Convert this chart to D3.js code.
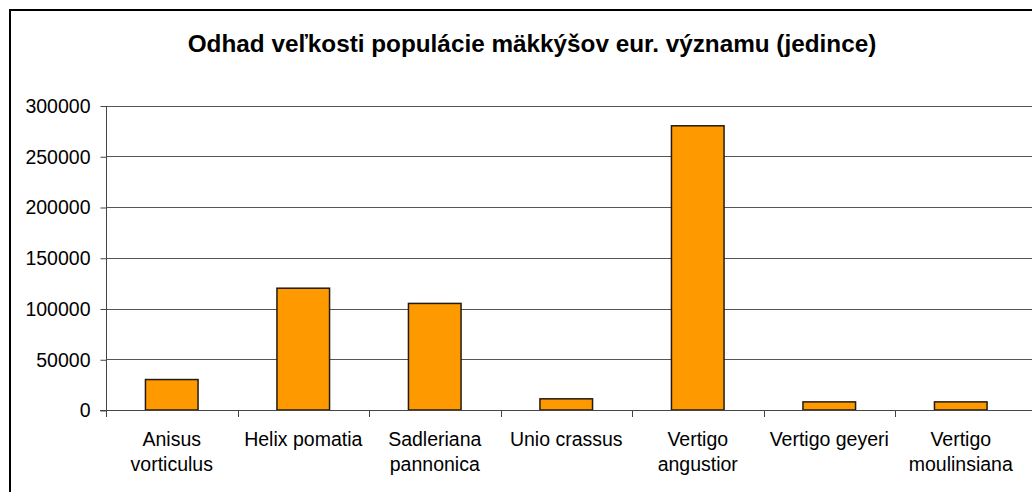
<!DOCTYPE html>
<html>
<head>
<meta charset="utf-8">
<script src="https://cdn.jsdelivr.net/npm/d3@7"></script>
<style>
  body { margin: 0; background: #fff; }
  text { font-family: "Liberation Sans", Arial, sans-serif; fill: #000; }
  .grid line { stroke: #555; stroke-width: 1; }
  .bar { fill: #ff9900; stroke: #231a10; stroke-width: 1.5; }
</style>
</head>
<body>
<svg id="chart"></svg>
<script>
// chart data
var title = "Odhad veľkosti populácie mäkkýšov eur. významu (jedince)";
var species = ["Anisus vorticulus", "Helix pomatia", "Sadleriana pannonica", "Unio crassus",
               "Vertigo angustior", "Vertigo geyeri", "Vertigo moulinsiana"];
var labelLines = [["Anisus", "vorticulus"], ["Helix pomatia"], ["Sadleriana", "pannonica"], ["Unio crassus"],
                  ["Vertigo", "angustior"], ["Vertigo geyeri"], ["Vertigo", "moulinsiana"]];
var counts = [30000, 120000, 105000, 11000, 280000, 8000, 8000];
var yTicks = [0, 50000, 100000, 150000, 200000, 250000, 300000];

var W = 1032, H = 492;
var plotLeft = 106, plotRight = 1026.5, plotTop = 105.5, plotBottom = 410;

var svg = d3.select("#chart")
    .attr("width", W)
    .attr("height", H);

// outer frame of the chart
svg.append("rect")
    .attr("x", 10).attr("y", 10)
    .attr("width", W + 20).attr("height", H + 20)
    .attr("fill", "none")
    .attr("stroke", "#000")
    .attr("stroke-width", 2);

svg.append("text")
    .attr("x", 532)
    .attr("y", 52)
    .attr("text-anchor", "middle")
    .style("font-weight", "bold")
    .style("font-size", "24.3px")
    .text(title);

var x = d3.scaleBand()
    .domain(species)
    .range([plotLeft, plotRight])
    .paddingInner(0.6)
    .paddingOuter(0.3);

var y = d3.scaleLinear()
    .domain([0, 300000])
    .range([plotBottom, plotTop]);

// gridlines
svg.append("g")
    .attr("class", "grid")
    .selectAll("line")
    .data(yTicks.slice(1))
    .enter().append("line")
    .attr("x1", plotLeft).attr("x2", W)
    .attr("y1", function(d) { return Math.round(y(d)) + 0.5; })
    .attr("y2", function(d) { return Math.round(y(d)) + 0.5; });

// y axis
var yAxis = d3.axisLeft(y)
    .tickValues(yTicks)
    .tickSize(6)
    .tickPadding(10)
    .tickFormat(d3.format("d"));

var gy = svg.append("g")
    .attr("transform", "translate(" + (plotLeft + 0.5) + ",0.5)")
    .call(yAxis);
gy.select(".domain").attr("stroke", "#444").attr("d", "M0," + plotTop + "V" + plotBottom);
gy.selectAll(".tick line").attr("stroke", "#444");
gy.selectAll(".tick text").style("font-size", "19.5px").attr("fill", "#000");

// bars
svg.selectAll(".bar")
    .data(counts)
    .enter().append("rect")
    .attr("class", "bar")
    .attr("x", function(d, i) { return x(species[i]); })
    .attr("y", function(d) { return y(d); })
    .attr("width", x.bandwidth())
    .attr("height", function(d) { return plotBottom - y(d); });

// x axis: baseline + category dividers
var step = x.step();
var bounds = d3.range(species.length).map(function(i) { return plotLeft + i * step; });

var gx = svg.append("g");
gx.append("line")
    .attr("x1", plotLeft - 6).attr("x2", W)
    .attr("y1", plotBottom + 0.5).attr("y2", plotBottom + 0.5)
    .attr("stroke", "#444");
gx.selectAll(".div")
    .data(bounds)
    .enter().append("line")
    .attr("x1", function(d) { return Math.round(d) + 0.5; })
    .attr("x2", function(d) { return Math.round(d) + 0.5; })
    .attr("y1", plotBottom).attr("y2", plotBottom + 7)
    .attr("stroke", "#444");

gx.selectAll(".cat")
    .data(labelLines)
    .enter().append("text")
    .attr("text-anchor", "middle")
    .style("font-size", "19.5px")
    .attr("transform", function(d, i) {
      return "translate(" + (x(species[i]) + x.bandwidth() / 2) + ",0)";
    })
    .each(function(lines) {
      var t = d3.select(this);
      lines.forEach(function(s, k) {
        t.append("tspan").attr("x", 0).attr("y", 446 + k * 25).text(s);
      });
    });
</script>
</body>
</html>
